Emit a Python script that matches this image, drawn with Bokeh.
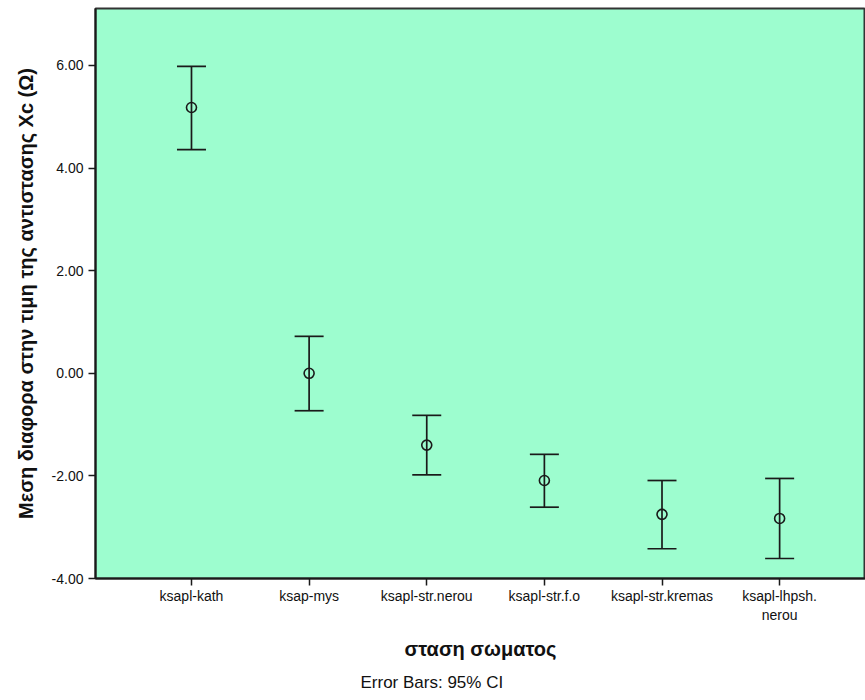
from bokeh.plotting import figure
from bokeh.models import (ColumnDataSource, Whisker, TeeHead, FixedTicker,
                          NumeralTickFormatter, Range1d, Title)
from bokeh.embed import file_html
from bokeh.resources import INLINE

# Body position groups and the mean Xc difference with its 95% CI
categories = ["ksapl-kath", "ksap-mys", "ksapl-str.nerou", "ksapl-str.f.o",
              "ksapl-str.kremas", "ksapl-lhpsh.\nnerou"]
means = [5.18, 0.00, -1.40, -2.09, -2.75, -2.83]
ci_upper = [5.98, 0.72, -0.82, -1.58, -2.09, -2.05]
ci_lower = [4.36, -0.73, -1.98, -2.61, -3.42, -3.61]
y_ticks = [-4, -2, 0, 2, 4, 6]

positions = list(range(1, len(categories) + 1))
src = ColumnDataSource(dict(x=positions, mean=means, upper=ci_upper, lower=ci_lower))

FONT = "Liberation Sans"
INK = "#1a1a1a"
TXT = "#111111"

p = figure(width=865, height=700, output_backend="svg", toolbar_location=None,
           x_range=Range1d(0.184, 6.73), y_range=Range1d(-4.0, 7.11),
           min_border_left=95, min_border_right=0, min_border_top=8,
           min_border_bottom=122)

p.background_fill_color = "#9dfdcf"
p.border_fill_color = "white"
p.outline_line_color = "#333333"
p.outline_line_width = 2
p.xgrid.visible = False
p.ygrid.visible = False

# confidence intervals
whisk = Whisker(source=src, base="x", upper="upper", lower="lower",
                dimension="height", line_color=INK, line_width=1.7,
                upper_head=TeeHead(size=29, line_color=INK, line_width=1.7),
                lower_head=TeeHead(size=29, line_color=INK, line_width=1.7))
p.add_layout(whisk)

# means
p.scatter("x", "mean", source=src, marker="circle", size=10,
          fill_color=None, line_color=INK, line_width=1.6)

# x axis: one tick per body position
p.xaxis.ticker = FixedTicker(ticks=positions)
p.xaxis.major_label_overrides = {pos: lab for pos, lab in zip(positions, categories)}
p.xaxis.minor_tick_line_color = None
p.xaxis.major_tick_out = 7
p.xaxis.major_tick_in = 0
p.xaxis.major_tick_line_color = INK
p.xaxis.major_tick_line_width = 1.5
p.xaxis.axis_line_color = INK
p.xaxis.axis_line_width = 2
p.xaxis.major_label_text_font = FONT
p.xaxis.major_label_text_font_size = "14px"
p.xaxis.major_label_text_color = TXT
p.xaxis.major_label_standoff = 2
p.xaxis.axis_label = "σταση σωματος"
p.xaxis.axis_label_text_font = FONT
p.xaxis.axis_label_text_font_style = "bold"
p.xaxis.axis_label_text_font_size = "20px"
p.xaxis.axis_label_text_color = TXT
p.xaxis.axis_label_standoff = 12

# y axis
p.yaxis.ticker = FixedTicker(ticks=y_ticks)
p.yaxis.formatter = NumeralTickFormatter(format="0.00")
p.yaxis.minor_tick_line_color = None
p.yaxis.major_tick_out = 7
p.yaxis.major_tick_in = 0
p.yaxis.major_tick_line_color = INK
p.yaxis.major_tick_line_width = 1.5
p.yaxis.axis_line_color = INK
p.yaxis.axis_line_width = 2
p.yaxis.major_label_text_font = FONT
p.yaxis.major_label_text_font_size = "14px"
p.yaxis.major_label_text_color = TXT
p.yaxis.major_label_standoff = 5
p.yaxis.axis_label = "Μεση διαφορα στην τιμη της αντιστασης Xc (Ω)"
p.yaxis.axis_label_text_font = FONT
p.yaxis.axis_label_text_font_style = "bold"
p.yaxis.axis_label_text_font_size = "20px"
p.yaxis.axis_label_text_color = TXT
p.yaxis.axis_label_standoff = 12

# footnote under the axis title
note = Title(text="Error Bars: 95% CI", align="left", offset=265,
             text_font=FONT, text_font_size="17px", text_font_style="normal",
             text_color=TXT, standoff=17)
p.add_layout(note, "below")

open("out.html", "w").write(file_html(p, INLINE))
